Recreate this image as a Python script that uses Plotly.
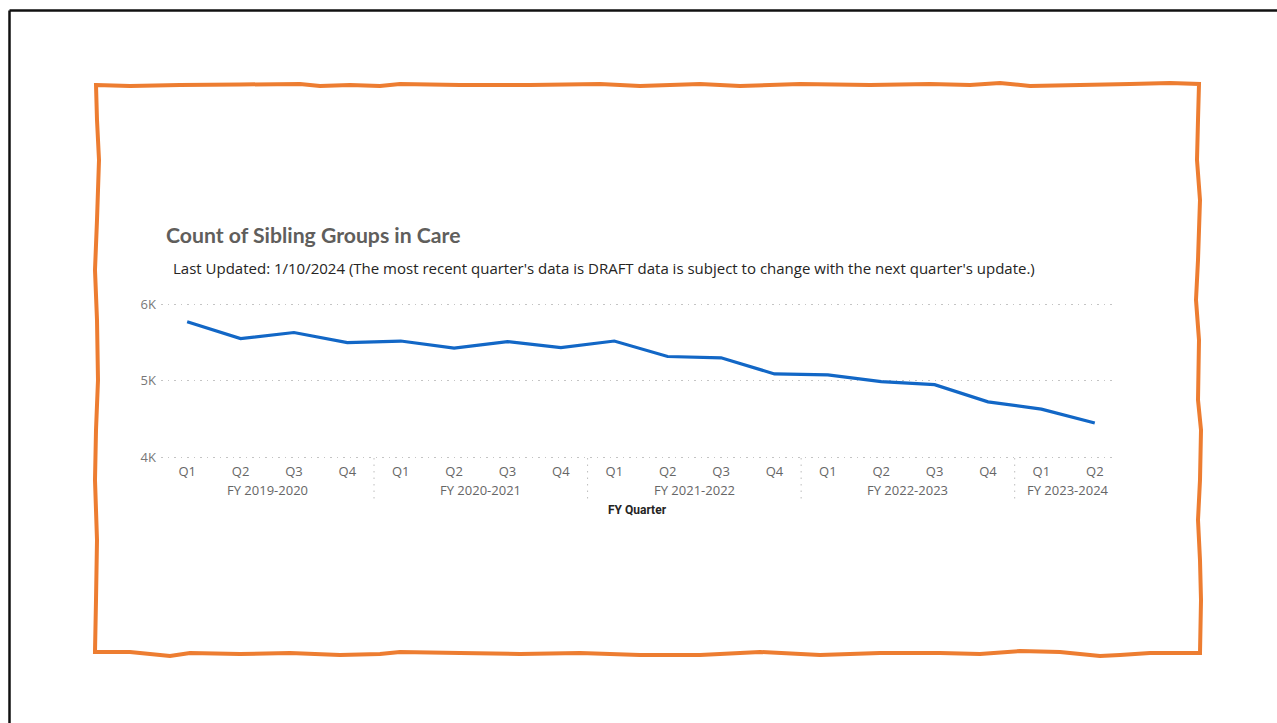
import plotly.graph_objects as go

# ---------------- data ----------------
fiscal_years = ["FY 2019-2020"] * 4 + ["FY 2020-2021"] * 4 + ["FY 2021-2022"] * 4 + ["FY 2022-2023"] * 4 + ["FY 2023-2024"] * 2
quarters = ["Q1", "Q2", "Q3", "Q4"] * 4 + ["Q1", "Q2"]
sibling_groups = [5767, 5548, 5627, 5495, 5516, 5424, 5508, 5429, 5516,
                  5314, 5297, 5086, 5073, 4985, 4945, 4721, 4625, 4444]
y_tick_vals = [4000, 5000, 6000]
y_tick_text = ["4K", "5K", "6K"]

TITLE = "Count of Sibling Groups in Care"
SUBTITLE = ("Last Updated: 1/10/2024 (The most recent quarter's data is DRAFT data is "
            "subject to change with the next quarter's update.)")

W, H = 1277, 723
DOTS = "1.5px,5px"


def px(x):
    return x / W


def py(y):
    return 1 - y / H


idx = list(range(len(sibling_groups)))

fig = go.Figure()
fig.add_trace(go.Scatter(
    x=idx, y=sibling_groups, mode="lines",
    line=dict(color="#1267C6", width=3.2),
    hoverinfo="y", showlegend=False,
))

# group boundaries and centres derived from the data
groups = []
for i, fy in enumerate(fiscal_years):
    if not groups or groups[-1][0] != fy:
        groups.append([fy, i, i])
    else:
        groups[-1][2] = i

shapes = []
annotations = []
for k, (fy, a, b) in enumerate(groups):
    annotations.append(dict(
        x=(a + b) / 2, xref="x", y=py(490), yref="paper", text=fy,
        showarrow=False, xanchor="center", yanchor="middle",
        font=dict(family="Open Sans, Segoe UI, sans-serif", size=13, color="#666666"),
    ))
    shapes.append(dict(
        type="line", xref="x", yref="paper", x0=a - 0.5, x1=a - 0.5,
        y0=py(458), y1=py(501), line=dict(color="#BDBDBD", width=1, dash=DOTS),
    ))

annotations.append(dict(
    x=0.5, xref="x domain", y=py(510), yref="paper", text="<b>FY Quarter</b>",
    showarrow=False, xanchor="center", yanchor="middle",
    font=dict(family="Roboto, sans-serif", size=12, color="#252423"),
))
annotations.append(dict(
    x=px(164), xref="paper", y=py(235), yref="paper", text="<b>" + TITLE + "</b>",
    showarrow=False, xanchor="left", yanchor="middle",
    font=dict(family="Lato, Segoe UI, sans-serif", size=21.2, color="#605E5C"),
))
annotations.append(dict(
    x=px(171), xref="paper", y=py(268), yref="paper", text=SUBTITLE,
    showarrow=False, xanchor="left", yanchor="middle",
    font=dict(family="Open Sans, Segoe UI, sans-serif", size=15, color="#252423"),
))

# hand-drawn orange frame
top = [(96, 85), (130, 86), (180, 85), (240, 84.5), (300, 84), (320, 86), (350, 85), (380, 86),
       (400, 84), (460, 85), (530, 85), (600, 84), (640, 86), (700, 84), (740, 86), (800, 84),
       (870, 85), (930, 84), (970, 85), (1000, 83), (1030, 86), (1080, 85), (1130, 84),
       (1170, 83), (1199, 84)]
right = [(1198, 120), (1197, 160), (1200, 200), (1198, 260), (1196, 300), (1199, 340),
         (1198, 400), (1201, 430), (1200, 480), (1198, 520), (1200, 560), (1201, 600), (1200, 653)]
bottom = [(1150, 653), (1120, 655), (1100, 656), (1060, 652), (1020, 651), (980, 654), (940, 653),
          (880, 653), (820, 655), (760, 652), (700, 655), (640, 655), (580, 653), (520, 654),
          (460, 653), (400, 652), (380, 654), (340, 655), (290, 653), (240, 654), (190, 653),
          (170, 656), (130, 652), (95, 652)]
left = [(96, 600), (97, 540), (95, 480), (96, 430), (98, 380), (97, 320), (95, 270), (97, 220),
        (99, 160), (97, 120), (96, 85)]
pts = top + right + bottom + left
path = "M " + " L ".join(f"{px(x):.5f},{py(y):.5f}" for x, y in pts) + " Z"
shapes.append(dict(type="path", xref="paper", yref="paper", path=path,
                   line=dict(color="#ED7D31", width=4)))

# black border top/left
shapes.append(dict(type="line", xref="paper", yref="paper", x0=px(9.5), x1=1, y0=py(10.5), y1=py(10.5),
                   line=dict(color="#111111", width=2.5)))
shapes.append(dict(type="line", xref="paper", yref="paper", x0=px(9.5), x1=px(9.5), y0=py(10.5), y1=0,
                   line=dict(color="#111111", width=2.5)))

# axis range padded so the 4K/6K gridlines are drawn inside the plot area
Y0, Y1 = 3940, 6060
PX_PER_UNIT = (457 - 304) / 2000
dom_bottom = 457 + (4000 - Y0) * PX_PER_UNIT
dom_top = 304 - (Y1 - 6000) * PX_PER_UNIT

fig.update_layout(
    width=W, height=H, autosize=False,
    margin=dict(l=0, r=0, t=0, b=0, pad=0, autoexpand=False),
    paper_bgcolor="white", plot_bgcolor="white",
    shapes=shapes, annotations=annotations,
    xaxis=dict(
        domain=[px(161), px(1114)], range=[-0.49, 17.36], automargin=False,
        tickvals=idx, ticktext=quarters, showgrid=False, zeroline=False, showline=False,
        ticks="", tickfont=dict(family="Open Sans, Segoe UI, sans-serif", size=13, color="#666666"),
        fixedrange=True,
    ),
    yaxis=dict(
        domain=[py(dom_bottom), py(dom_top)], range=[Y0, Y1], automargin=False,
        tickvals=y_tick_vals, ticktext=y_tick_text,
        showgrid=True, gridcolor="#C4C4C4", griddash=DOTS, gridwidth=1,
        zeroline=False, showline=False, ticks="", ticklabelstandoff=4,
        tickfont=dict(family="Open Sans, Segoe UI, sans-serif", size=13, color="#777777"),
        fixedrange=True,
    ),
)

fig.write_html(
    "out.html",
    config={"responsive": False, "displayModeBar": False},
    post_script="document.body.style.margin='0';document.body.style.overflow='hidden';",
)
